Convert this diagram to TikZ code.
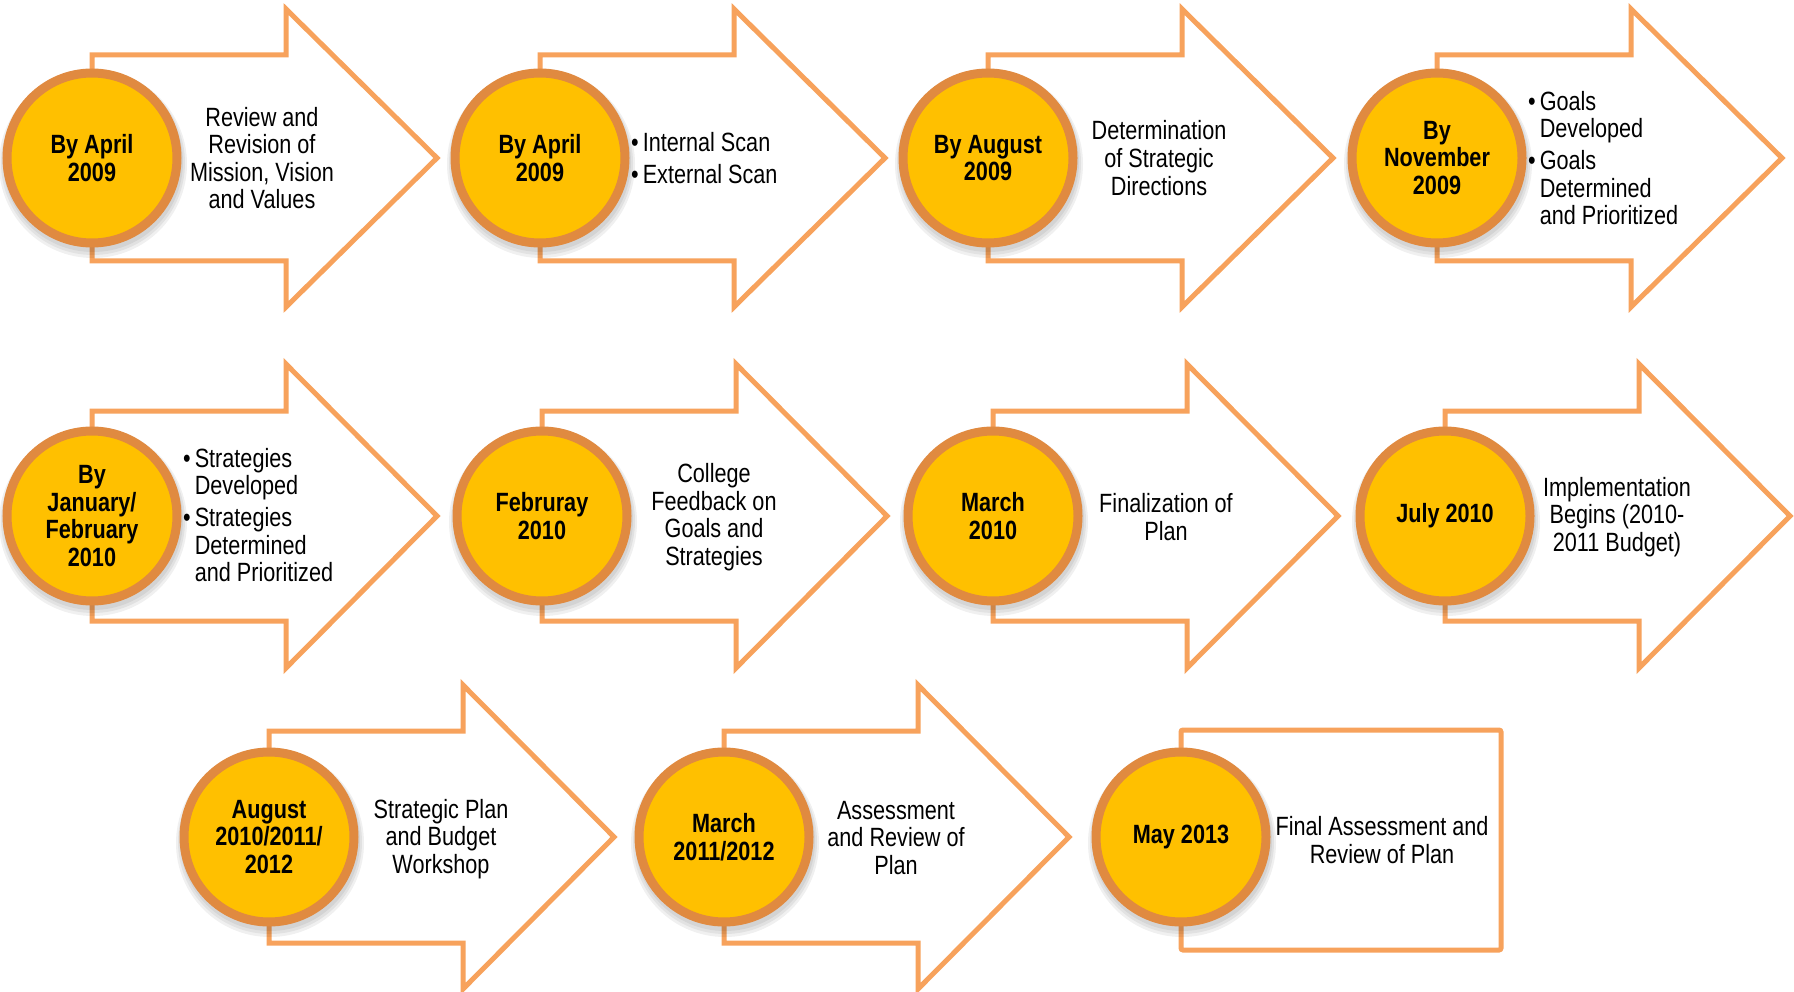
\documentclass[tikz,border=0pt]{standalone}
\usepackage{fontspec}
\setmainfont{Liberation Sans}[FakeStretch=0.82]
\definecolor{arrowc}{HTML}{F7A25C}
\definecolor{ringc}{HTML}{E08A40}
\definecolor{goldc}{HTML}{FFC000}
\tikzset{
  arrowshape/.style={draw=arrowc, line width=5pt, fill=white, line join=miter},
  datec/.style={circle, fill=goldc, draw=ringc, line width=9pt, minimum size=170pt,
    inner sep=0pt, align=center, font=\bfseries\fontsize{26.4}{27.7}\selectfont},
  desc/.style={align=center, inner sep=0pt, font=\fontsize{26.4}{27.6}\selectfont},
  blist/.style={anchor=west, inner sep=0pt, font=\fontsize{26.4}{27.6}\selectfont},
  shadowc/.style={fill=black, opacity=0.06},
}
% #1 left x, #2 centre y, #3 shaft half height, #4 head half height
\newcommand{\tarrow}[4]{%
  \draw[arrowshape] (#1,#2-#3) -- (#1+194,#2-#3) -- (#1+194,#2-#4) -- (#1+345,#2)
    -- (#1+194,#2+#4) -- (#1+194,#2+#3) -- (#1,#2+#3) -- cycle;}
% #1 name, #2 x, #3 y, #4 text
\newcommand{\datecirc}[4]{%
  \fill[shadowc] (#2+1,#3+6) circle (94pt);
  \fill[shadowc] (#2+1,#3+5) circle (92pt);
  \fill[shadowc] (#2+1,#3+4) circle (90pt);
  \node[datec] (#1) at (#2,#3) {#4};}
\begin{document}
\begin{tikzpicture}[x=1pt, y=-1pt]
\useasboundingbox (0,0) rectangle (1794,992);
% ---------- row 1 ----------
\tarrow{92}{158}{103}{149}
\tarrow{540}{158}{103}{149}
\tarrow{988}{158}{103}{149}
\tarrow{1437}{158}{103}{149}
\datecirc{c11}{92}{158}{By April\\2009}
\datecirc{c12}{540}{158}{By April\\2009}
\datecirc{c13}{988}{158}{By August\\2009}
\datecirc{c14}{1437}{158}{By\\November\\2009}
\node[desc] (t11) at (262,158) {Review and\\Revision of\\Mission, Vision\\and Values};
\node[blist] (t12) at (631,162) {\begin{tabular}{@{}l@{\hspace{4pt}}l@{}}
  •&Internal Scan\\[4.5pt]
  •&External Scan
\end{tabular}};
\node[desc] (t13) at (1159,158) {Determination\\of Strategic\\Directions};
\node[blist] (t14) at (1528,162) {\begin{tabular}{@{}l@{\hspace{4pt}}l@{}}
  •&Goals\\
   &Developed\\[4.5pt]
  •&Goals\\
   &Determined\\
   &and Prioritized
\end{tabular}};
% ---------- row 2 ----------
\tarrow{92}{516}{105}{152}
\tarrow{542}{516}{105}{152}
\tarrow{993}{516}{105}{152}
\tarrow{1445}{516}{105}{152}
\datecirc{c21}{92}{516}{By\\January/\\February\\2010}
\datecirc{c22}{542}{516}{Februray\\2010}
\datecirc{c23}{993}{516}{March\\2010}
\datecirc{c24}{1445}{516}{July 2010}
\node[blist] (t21) at (183,519) {\begin{tabular}{@{}l@{\hspace{4pt}}l@{}}
  •&Strategies\\
   &Developed\\[4.5pt]
  •&Strategies\\
   &Determined\\
   &and Prioritized
\end{tabular}};
\node[desc] (t22) at (714,517) {College\\Feedback on\\Goals and\\Strategies};
\node[desc] (t23) at (1166,517) {Finalization of\\Plan};
\node[desc] (t24) at (1617,517) {Implementation\\Begins (2010-\\2011 Budget)};
% ---------- row 3 ----------
\tarrow{269}{837}{106}{152}
\tarrow{724}{837}{106}{152}
\draw[arrowshape, rounded corners=2pt] (1181,730) rectangle (1501,950);
\datecirc{c31}{269}{837}{August\\2010/2011/\\2012}
\datecirc{c32}{724}{837}{March\\2011/2012}
\datecirc{c33}{1181}{837}{May 2013}
\node[desc] (t31) at (441,839) {Strategic Plan\\and Budget\\Workshop};
\node[desc] (t32) at (896,838) {Assessment\\and Review of\\Plan};
\node[desc] (t33) at (1382,840) {Final Assessment and\\Review of Plan};
\end{tikzpicture}
\end{document}
